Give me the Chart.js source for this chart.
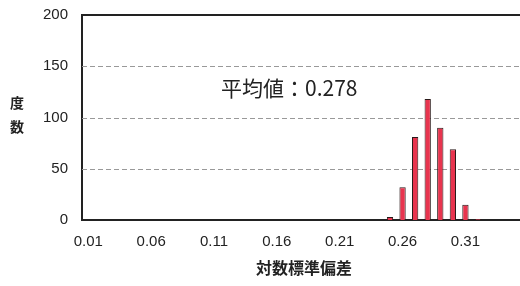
<!DOCTYPE html>
<html>
<head>
<meta charset="utf-8">
<script src="https://cdn.jsdelivr.net/npm/chart.js@4/dist/chart.umd.min.js"></script>
<style>
  html, body { margin: 0; padding: 0; background: #fff; overflow: hidden; }
  #wrap { width: 530px; height: 286px; }
</style>
</head>
<body>
<div id="wrap"><canvas id="histChart" width="530" height="286"></canvas></div>
<script>
// bins of log standard deviation (0.01 .. 0.35)
var binLabels = ['0.01','0.02','0.03','0.04','0.05','0.06','0.07','0.08','0.09','0.10',
                 '0.11','0.12','0.13','0.14','0.15','0.16','0.17','0.18','0.19','0.20',
                 '0.21','0.22','0.23','0.24','0.25','0.26','0.27','0.28','0.29','0.30',
                 '0.31','0.32','0.33','0.34','0.35'];
var counts = [0,0,0,0,0,0,0,0,0,0,
              0,0,0,0,0,0,0,0,0,0,
              0,0,0,0,3,32,81,118,90,69,
              15,1,0,0,0];
var yTicks = [0, 50, 100, 150, 200];
var meanText = '平均値：0.278';

var ctx = document.getElementById('histChart').getContext('2d');

// dashed grid lines, top border and extra texts
var extras = {
    id: 'extras',
    beforeDatasetsDraw: function (chart) {
        var c = chart.ctx, a = chart.chartArea, y = chart.scales.y;
        c.save();
        c.strokeStyle = '#999';
        c.lineWidth = 1;
        c.setLineDash([5, 3]);
        [50, 100, 150].forEach(function (v) {
            var py = Math.round(y.getPixelForValue(v)) + 0.5;
            c.beginPath(); c.moveTo(a.left, py); c.lineTo(a.right, py); c.stroke();
        });
        c.setLineDash([]);
        c.strokeStyle = '#222';
        c.lineWidth = 2;
        var top = Math.round(y.getPixelForValue(200));
        c.beginPath(); c.moveTo(a.left - 1, top); c.lineTo(a.right, top); c.stroke();
        c.restore();
    },
    afterDraw: function (chart) {
        var c = chart.ctx;
        c.save();
        c.fillStyle = '#222';
        c.textBaseline = 'middle';
        c.font = '21px "Noto Sans CJK JP", "Liberation Sans", sans-serif';
        c.textAlign = 'left';
        c.fillText(meanText, 221, 88);
        c.font = 'bold 14px "Noto Sans CJK JP", sans-serif';
        c.textAlign = 'center';
        c.fillText('度', 17, 103);
        c.fillText('数', 17, 127);
        c.font = 'bold 16px "Noto Sans CJK JP", sans-serif';
        c.fillText('対数標準偏差', 304, 268);
        c.restore();
    }
};

var chart = new Chart(ctx, {
    type: 'bar',
    data: {
        labels: binLabels,
        datasets: [{
            data: counts,
            backgroundColor: '#e8344e',
            borderColor: '#2a1a1a',
            borderWidth: 1,
            barPercentage: 0.5,
            categoryPercentage: 1.0
        }]
    },
    options: {
        responsive: false,
        animation: false,
        layout: { padding: { top: 15, right: 8, left: 0, bottom: 0 } },
        plugins: {
            legend: { display: false },
            tooltip: { enabled: false }
        },
        scales: {
            x: {
                grid: { display: false, drawTicks: false },
                border: { color: '#222', width: 2 },
                ticks: {
                    autoSkip: false,
                    maxRotation: 0,
                    padding: 13,
                    color: '#222',
                    font: { family: '"Liberation Sans", sans-serif', size: 15 },
                    callback: function (val, i) {
                        return i % 5 === 0 ? binLabels[i] : '';
                    }
                },
                afterFit: function (scale) { scale.height = 66; }
            },
            y: {
                min: 0,
                max: 200,
                afterBuildTicks: function (scale) {
                    scale.ticks = yTicks.map(function (v) { return { value: v }; });
                },
                grid: { display: false, drawTicks: false },
                border: { color: '#222', width: 2 },
                ticks: {
                    padding: 14,
                    color: '#222',
                    font: { family: '"Liberation Sans", sans-serif', size: 15 }
                },
                afterFit: function (scale) {
                    scale.width = 82;
                    scale.paddingTop = 0;
                    scale.paddingBottom = 0;
                }
            }
        }
    },
    plugins: [extras]
});
</script>
</body>
</html>
